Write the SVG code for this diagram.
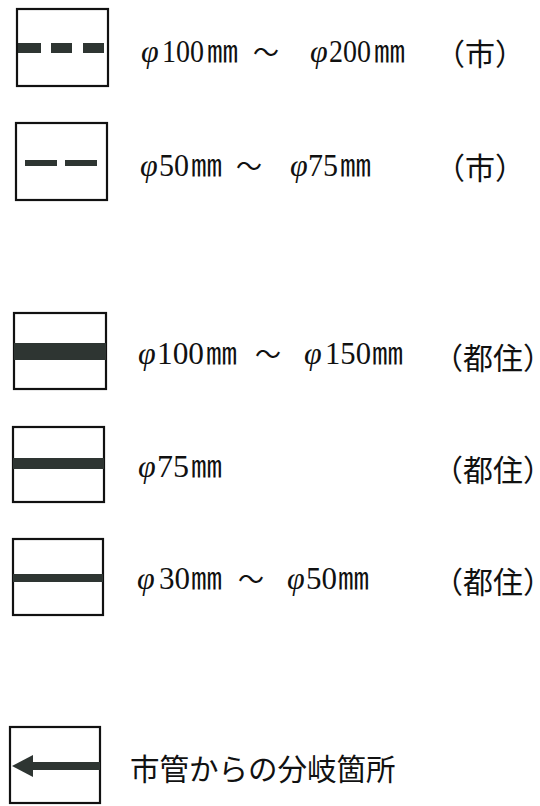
<svg xmlns="http://www.w3.org/2000/svg" width="540" height="806" viewBox="0 0 540 806">
<style>
.bg{fill:#ffffff}
.box{fill:#ffffff;stroke:#111;stroke-width:2.2}
.ln{fill:#2e3532}
.num{font-family:"Liberation Serif",serif;font-size:31px;fill:#111}
.phi{font-family:"Liberation Serif",serif;font-style:italic;font-size:32px;fill:#111}
.mm{font-family:"Noto Sans CJK JP",sans-serif;font-size:31px;fill:#111}
.tl{font-family:"Noto Sans CJK JP",sans-serif;font-size:26px;fill:#111}
.jp{font-family:"Noto Sans CJK JP",sans-serif;font-size:30px;fill:#111;font-feature-settings:"halt"}
.jt{font-family:"Noto Sans CJK JP",sans-serif;font-size:29.5px;fill:#111}
</style>
<rect class="bg" x="0" y="0" width="540" height="806"/>

<g id="legend1">
<rect class="box" x="17" y="9" width="91" height="77"/>
<rect class="ln" x="18" y="43" width="23" height="10"/>
<rect class="ln" x="51" y="43" width="21" height="10"/>
<rect class="ln" x="83" y="43" width="21" height="10"/>
<text class="phi" x="141" y="62">φ</text>
<text class="num" x="162" y="62" textLength="42" lengthAdjust="spacingAndGlyphs">100</text>
<text class="mm" x="207" y="62">㎜</text>
<text class="tl" x="253" y="62">～</text>
<text class="phi" x="310" y="62">φ</text>
<text class="num" x="329" y="62" textLength="42" lengthAdjust="spacingAndGlyphs">200</text>
<text class="mm" x="374" y="62">㎜</text>
<text class="jp" x="450" y="65">（市）</text>
</g>

<g id="legend2">
<rect class="box" x="16" y="123" width="91" height="77"/>
<rect class="ln" x="25" y="160" width="32" height="6"/>
<rect class="ln" x="65" y="160" width="32" height="6"/>
<text class="phi" x="140" y="176">φ</text>
<text class="num" x="159" y="176" textLength="30" lengthAdjust="spacingAndGlyphs">50</text>
<text class="mm" x="191" y="176">㎜</text>
<text class="tl" x="236" y="176">～</text>
<text class="phi" x="290" y="176">φ</text>
<text class="num" x="308" y="176" textLength="30" lengthAdjust="spacingAndGlyphs">75</text>
<text class="mm" x="340" y="176">㎜</text>
<text class="jp" x="450" y="179">（市）</text>
</g>

<g id="legend3">
<rect class="box" x="14" y="313" width="92" height="76"/>
<rect class="ln" x="14" y="343" width="92" height="17"/>
<text class="phi" x="138" y="364">φ</text>
<text class="num" x="157" y="364" textLength="47" lengthAdjust="spacingAndGlyphs">100</text>
<text class="mm" x="206" y="364">㎜</text>
<text class="tl" x="255" y="364">～</text>
<text class="phi" x="304" y="364">φ</text>
<text class="num" x="325" y="364" textLength="46" lengthAdjust="spacingAndGlyphs">150</text>
<text class="mm" x="372" y="364">㎜</text>
<text class="jp" x="448" y="369">（都住）</text>
</g>

<g id="legend4">
<rect class="box" x="13" y="427" width="91" height="75"/>
<rect class="ln" x="13" y="458" width="91" height="11"/>
<text class="phi" x="138" y="477">φ</text>
<text class="num" x="157" y="477" textLength="32" lengthAdjust="spacingAndGlyphs">75</text>
<text class="mm" x="191" y="477">㎜</text>
<text class="jp" x="448" y="481">（都住）</text>
</g>

<g id="legend5">
<rect class="box" x="13" y="539" width="90" height="76"/>
<rect class="ln" x="13" y="574" width="90" height="8"/>
<text class="phi" x="137" y="589">φ</text>
<text class="num" x="159" y="589" textLength="31" lengthAdjust="spacingAndGlyphs">30</text>
<text class="mm" x="191" y="589">㎜</text>
<text class="tl" x="238" y="589">～</text>
<text class="phi" x="287" y="589">φ</text>
<text class="num" x="306" y="589" textLength="31" lengthAdjust="spacingAndGlyphs">50</text>
<text class="mm" x="338" y="589">㎜</text>
<text class="jp" x="448" y="593">（都住）</text>
</g>

<g id="legend6">
<rect class="box" x="10" y="727" width="90" height="76"/>
<rect class="ln" x="30" y="762" width="70" height="8"/>
<polygon class="ln" points="12,766 33,755 33,777"/>
<text class="jt" x="130" y="780">市管からの分岐箇所</text>
</g>

<g id="connectors"></g>
</svg>
